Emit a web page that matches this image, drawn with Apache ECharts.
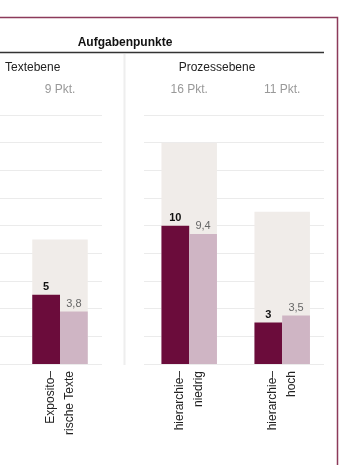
<!DOCTYPE html>
<html>
<head>
<meta charset="utf-8">
<script src="https://cdn.jsdelivr.net/npm/echarts@6/dist/echarts.min.js"></script>
<style>
html,body{margin:0;padding:0;background:#fff;}
#c{width:355px;height:465px;}
</style>
</head>
<body>
<div id="c"></div>
<script>
// ---- data ----
var categoriesLeft = ['Exposito–\nrische Texte'];
var categoriesRight = ['hierarchie–\nniedrig', 'hierarchie–\nhoch'];
var maxPointsLeft = [9];
var maxPointsRight = [16, 11];
var pointLabelsLeft = ['9 Pkt.'];
var pointLabelsRight = ['16 Pkt.', '11 Pkt.'];
var scoreLeft = [5];
var scoreRight = [10, 3];
var meanLeft = [3.8];
var meanRight = [9.4, 3.5];
var yTicks = [0, 2, 4, 6, 8, 10, 12, 14, 16, 18];

var FONT = 'Liberation Sans, Arial, sans-serif';
var DARK = '#6b0c3b', PINK = '#cfb5c4', BG = '#f0ece9', GRID = '#ebebeb';
var fmt = function (v) { return String(v).replace('.', ','); };

var chart = echarts.init(document.getElementById('c'), null, {renderer: 'canvas'});

var TOP = 115, H = 249;
function yAx(grid, lines) {
  return {
    type: 'value', gridIndex: grid, min: yTicks[0], max: yTicks[yTicks.length - 1],
    interval: yTicks[1] - yTicks[0],
    axisLabel: {show: false}, axisLine: {show: false}, axisTick: {show: false},
    splitLine: {show: lines, lineStyle: {color: GRID, width: 1}}
  };
}
function xBottom(grid, cats) {
  return {
    type: 'category', gridIndex: grid, data: cats, position: 'bottom',
    axisLine: {show: false}, axisTick: {show: false}, splitLine: {show: false},
    axisLabel: {rotate: 90, margin: 7, fontSize: 12, lineHeight: 19, color: '#222', fontFamily: FONT, interval: 0}
  };
}
function xTop(grid, cats, labels) {
  return {
    type: 'category', gridIndex: grid, data: cats, position: 'top',
    axisLine: {show: false}, axisTick: {show: false}, splitLine: {show: false},
    axisLabel: {margin: 19, fontSize: 12, color: '#999', fontFamily: FONT, interval: 0,
      formatter: function (v, i) { return labels[i]; }}
  };
}
function xHidden(grid) {
  return {type: 'value', gridIndex: grid, min: 0, max: 1, show: false};
}
function bars(xb, xt, y, maxP, score, mean) {
  return [
    {type: 'bar', xAxisIndex: xt, yAxisIndex: y, data: maxP, barWidth: 55.5, silent: true,
      itemStyle: {color: BG}, z: 1},
    {type: 'bar', xAxisIndex: xb, yAxisIndex: y, data: score, barWidth: 27.75, barGap: 0,
      itemStyle: {color: DARK}, z: 3,
      label: {show: true, position: 'top', distance: 2, fontSize: 11, fontWeight: 'bold', color: '#111', fontFamily: FONT, formatter: function (p) { return fmt(p.value); }}},
    {type: 'bar', xAxisIndex: xb, yAxisIndex: y, data: mean, barWidth: 27.75, barGap: 0,
      itemStyle: {color: PINK}, z: 3,
      label: {show: true, position: 'top', distance: 2, fontSize: 11, color: '#666', fontFamily: FONT, formatter: function (p) { return fmt(p.value); }}}
  ];
}

var option = {
  animation: false,
  backgroundColor: '#fff',
  grid: [
    {left: 0, width: 102, top: TOP, height: H},
    {left: 13.5, width: 93, top: TOP, height: H},
    {left: 144, width: 180, top: TOP, height: H},
    {left: 142.7, width: 186, top: TOP, height: H}
  ],
  xAxis: [
    xHidden(0),
    xBottom(1, categoriesLeft),
    xTop(1, categoriesLeft, pointLabelsLeft),
    xHidden(2),
    xBottom(3, categoriesRight),
    xTop(3, categoriesRight, pointLabelsRight)
  ],
  yAxis: [yAx(0, true), yAx(1, false), yAx(2, true), yAx(3, false)],
  series: [].concat(
    bars(1, 2, 1, maxPointsLeft, scoreLeft, meanLeft),
    bars(4, 5, 3, maxPointsRight, scoreRight, meanRight)
  ),
  graphic: [
    {type: 'rect', shape: {x: -5, y: 17.5, width: 342.5, height: 470}, style: {fill: null, stroke: '#8c3a5a', lineWidth: 1.5}, silent: true},
    {type: 'line', shape: {x1: 0, y1: 52.5, x2: 324, y2: 52.5}, style: {stroke: '#333', lineWidth: 1.5}, silent: true},
    {type: 'line', shape: {x1: 124.5, y1: 54, x2: 124.5, y2: 365}, style: {stroke: '#eeeeee', lineWidth: 2}, silent: true},
    {type: 'text', x: 125, y: 42.5, style: {text: 'Aufgabenpunkte', font: 'bold 12px ' + FONT, fill: '#111', align: 'center', verticalAlign: 'middle'}},
    {type: 'text', x: 5, y: 68, style: {text: 'Textebene', font: '12px ' + FONT, fill: '#222', align: 'left', verticalAlign: 'middle'}},
    {type: 'text', x: 217, y: 68, style: {text: 'Prozessebene', font: '12px ' + FONT, fill: '#222', align: 'center', verticalAlign: 'middle'}}
  ]
};
chart.setOption(option);
</script>
</body>
</html>
